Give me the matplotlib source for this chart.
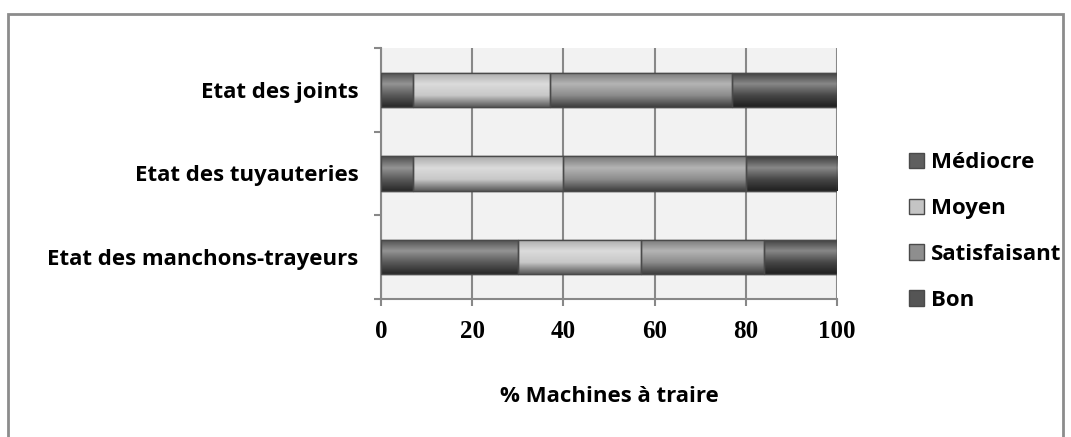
import numpy as np
import matplotlib.pyplot as plt
from matplotlib.patches import Rectangle, Patch
from matplotlib.colors import to_rgb, LinearSegmentedColormap

# ---- data ----
categories = ['Etat des manchons-trayeurs', 'Etat des tuyauteries', 'Etat des joints']
series = ['Médiocre', 'Moyen', 'Satisfaisant', 'Bon']
mediocre = [30, 7, 7]
moyen = [27, 33, 30]
satisfaisant = [27, 40, 40]
bon = [16, 20, 23]
values = [mediocre, moyen, satisfaisant, bon]
xticks = [0, 20, 40, 60, 80, 100]

colors = ['#5a5a5a', '#c8c8c8', '#8c8c8c', '#474747']
legend_colors = ['#5f5f5f', '#c4c4c4', '#8e8e8e', '#555555']

lab_font = 'Open Sans'

fig = plt.figure(figsize=(10.71, 4.37), dpi=100)
ax = fig.add_axes([0.3557, 0.3158, 0.4258, 0.5744])
ax.set_facecolor('#f2f2f2')

y = np.arange(len(categories))
h = 0.41
left = np.zeros(len(categories))


def grad_cmap(c):
    # vertical gradient like Excel 2007 bars: dark bottom, light upper middle
    r = np.array(to_rgb(c))
    dark = r * 0.45
    light = np.clip(r + (1 - r) * 0.35, 0, 1)
    return LinearSegmentedColormap.from_list('g', [dark, r, light, r * 0.85], N=64)


for vals, c in zip(values, colors):
    bars = ax.barh(y, vals, height=h, left=left, color=c, edgecolor='#4a4a4a',
                   linewidth=1.0, zorder=3)
    cmap = grad_cmap(c)
    grad = np.linspace(0, 1, 64).reshape(-1, 1)
    for b in bars:
        x0, y0 = b.get_x(), b.get_y()
        im = ax.imshow(grad, cmap=cmap, aspect='auto', origin='lower',
                       extent=[x0, x0 + b.get_width(), y0, y0 + b.get_height()],
                       zorder=3.5)
        im.set_clip_path(b)
    ax.barh(y, vals, height=h, left=left, color='none', edgecolor='#4a4a4a',
            linewidth=1.0, zorder=4)
    left += np.array(vals)

ax.set_xlim(0, 100)
ax.set_ylim(-0.5, len(categories) - 0.5)
ax.set_xticks(xticks)
ax.set_xticklabels([str(t) for t in xticks], fontfamily='Liberation Serif',
                   fontweight='bold', fontsize=18)
ax.set_yticks(y)
ax.set_yticklabels(categories, fontfamily=lab_font, fontweight='bold', fontsize=16)
ax.tick_params(axis='y', length=0, pad=16)
ax.set_yticks(np.arange(-0.5, len(categories)), minor=True)
ax.tick_params(axis='y', which='minor', length=5, width=1.5, color='#888888', direction='out')
ax.tick_params(axis='x', length=5, width=1.5, color='#888888', pad=10)
ax.grid(axis='x', color='#888888', linewidth=1.5, zorder=1)
ax.set_axisbelow(True)
for s in ['top', 'right']:
    ax.spines[s].set_visible(False)
for s in ['left', 'bottom']:
    ax.spines[s].set_color('#888888')
    ax.spines[s].set_linewidth(1.5)

ax.set_xlabel('% Machines à traire', fontfamily=lab_font, fontweight='bold',
              fontsize=16, labelpad=31)

handles = [Patch(facecolor=c, edgecolor='#4a4a4a', linewidth=1.0) for c in legend_colors]
fig.legend(handles, series, loc='center left', bbox_to_anchor=(0.830, 0.47),
           frameon=False, handlelength=0.7, handleheight=0.7, handletextpad=0.3,
           labelspacing=1.12, prop={'family': lab_font, 'weight': 'bold', 'size': 16})

# outer chart border
fig.patches.append(Rectangle((8 / 1071, -0.02), 1055 / 1071, 1 - 14 / 437 + 0.02,
                             transform=fig.transFigure, fill=False,
                             edgecolor='#8c8c8c', linewidth=2))

fig.savefig('out.png', dpi=100)
